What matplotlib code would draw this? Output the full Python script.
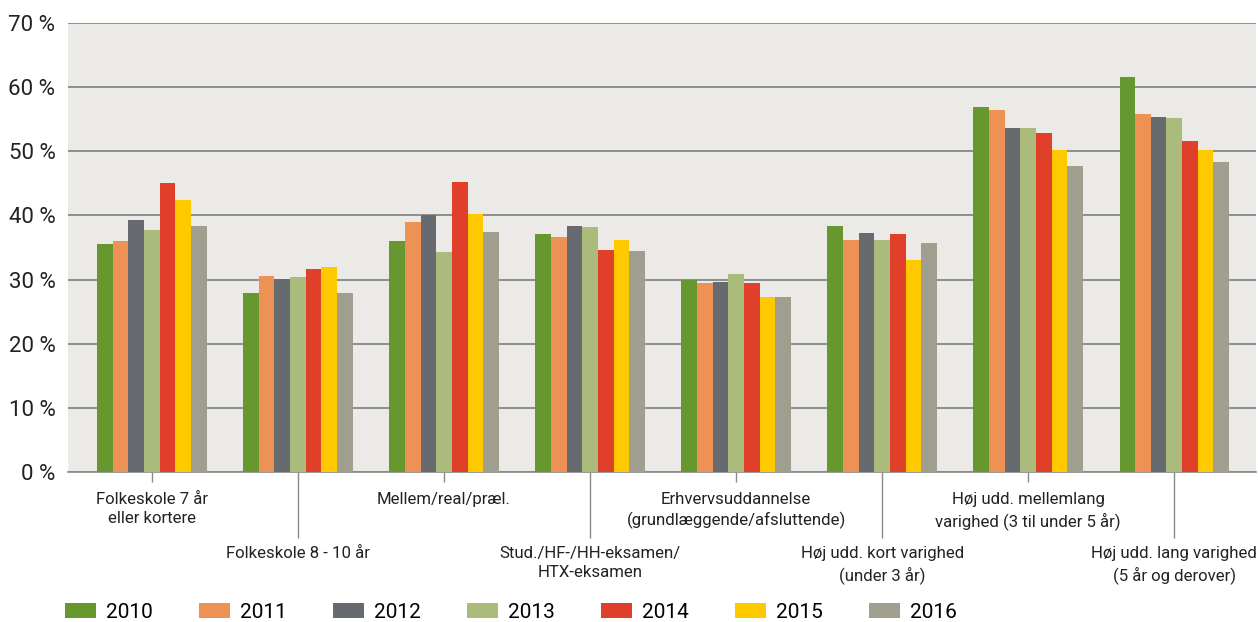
import numpy as np
import matplotlib.pyplot as plt

plt.rcParams['font.family'] = ['Roboto', 'DejaVu Sans']

categories = [
    "Folkeskole 7 år\neller kortere",
    "Folkeskole 8 - 10 år",
    "Mellem/real/præl.",
    "Stud./HF-/HH-eksamen/\nHTX-eksamen",
    "Erhvervsuddannelse\n(grundlæggende/afsluttende)",
    "Høj udd. kort varighed\n(under 3 år)",
    "Høj udd. mellemlang\nvarighed (3 til under 5 år)",
    "Høj udd. lang varighed\n(5 år og derover)",
]
years = ["2010", "2011", "2012", "2013", "2014", "2015", "2016"]

v2010 = [35.5, 27.9, 36.0, 37.1, 29.9, 38.4, 56.9, 61.6]
v2011 = [36.0, 30.6, 39.0, 36.6, 29.5, 36.2, 56.4, 55.8]
v2012 = [39.3, 30.1, 40.1, 38.4, 29.6, 37.3, 53.6, 55.4]
v2013 = [37.7, 30.4, 34.3, 38.2, 30.9, 36.2, 53.6, 55.2]
v2014 = [45.1, 31.6, 45.2, 34.6, 29.5, 37.1, 52.9, 51.6]
v2015 = [42.4, 32.0, 40.2, 36.2, 27.3, 33.1, 50.2, 50.2]
v2016 = [38.4, 27.9, 37.4, 34.5, 27.3, 35.7, 47.7, 48.3]
series = [v2010, v2011, v2012, v2013, v2014, v2015, v2016]

colors = ["#67972f", "#ee9155", "#676a6e", "#aabb7c", "#e04029", "#ffc900", "#a09e8e"]
yticks = [0, 10, 20, 30, 40, 50, 60, 70]

fig = plt.figure(figsize=(12.58, 6.22), dpi=100)
ax = fig.add_axes([0.054, 0.2412, 0.9445, 0.7218])
ax.set_facecolor("#ebeae6")

x = np.arange(len(categories))
w = 0.75 / len(years)
handles = []
for i, (yr, vals) in enumerate(zip(years, series)):
    b = ax.bar(x - 0.375 + w * (i + 0.5), vals, width=w, color=colors[i], label=yr, zorder=3)
    handles.append(b)

ax.set_xlim(-0.575, 7.56)
ax.set_ylim(0, 70)
ax.set_yticks(yticks)
ax.set_yticklabels([f"{t} %" for t in yticks], fontsize=16, color="#222222")
ax.tick_params(axis='y', length=0, pad=9)
ax.yaxis.grid(True, color="#7f7f7f", linewidth=1.2, zorder=1)
ax.set_axisbelow(True)

for s in ["top", "right", "left"]:
    ax.spines[s].set_visible(False)
ax.spines["bottom"].set_color("#8a8a8a")
ax.spines["bottom"].set_linewidth(1.2)

ax.set_xticks(x[::2])
ax.set_xticklabels(categories[::2], fontsize=12.1, color="#222222", linespacing=1.35)
ax.set_xticks(x[1::2], minor=True)
ax.set_xticklabels(categories[1::2], minor=True, fontsize=12.1, color="#222222", linespacing=1.35)
ax.tick_params(axis='x', which='major', length=7.5, width=1, color="#8a8a8a", pad=7)
ax.tick_params(axis='x', which='minor', length=47.5, width=1, color="#8a8a8a", pad=6)

fig.legend(handles=handles, labels=years, loc="center left", bbox_to_anchor=(0.0517, 0.016),
           ncol=7, frameon=False, fontsize=15, handlelength=1.5, handleheight=0.75,
           columnspacing=2.2, handletextpad=0.48, borderaxespad=0, borderpad=0)

fig.savefig("out.png", dpi=100)
